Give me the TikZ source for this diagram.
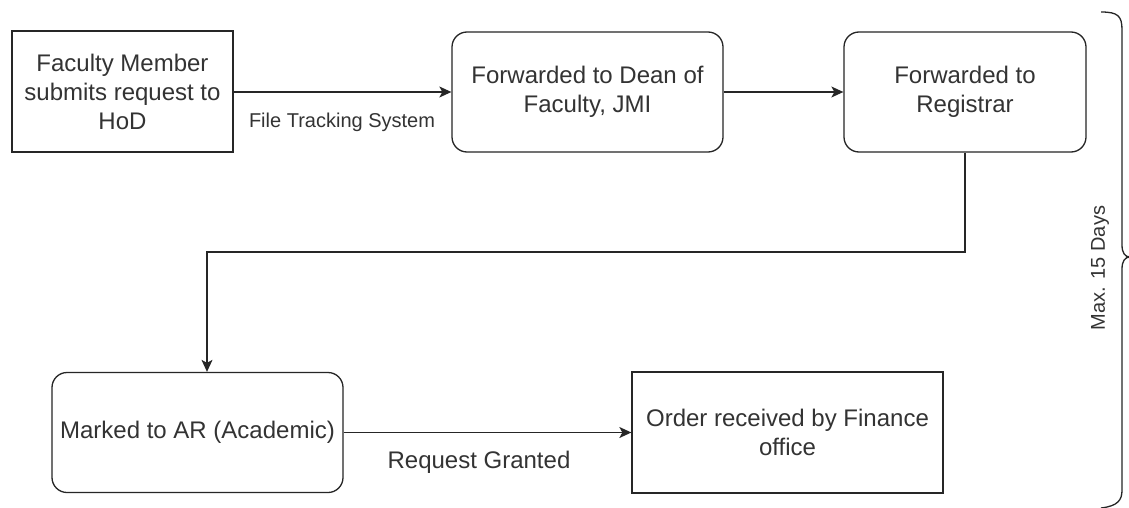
\documentclass[tikz,border=0pt]{standalone}
\usepackage{fontspec}
\setmainfont{Liberation Sans}
\usetikzlibrary{arrows.meta}
\begin{document}
\begin{tikzpicture}[x=1pt,y=-1pt,
  box/.style={draw=black!85, line width=1.3pt, align=center, font=\fontsize{24}{29}\selectfont, text=black!80, inner sep=0pt},
  rbox/.style={box, rounded corners=15pt},
  conn/.style={draw=black!85, line width=1.3pt, -{Stealth[length=12pt,width=11pt,inset=3pt]}},
  lab/.style={font=\fontsize{20}{24}\selectfont, text=black!80},
  biglab/.style={font=\fontsize{24}{29}\selectfont, text=black!80}]
\useasboundingbox[fill=white] (0,0) rectangle (1129,508);
\node[box, minimum width=221pt, minimum height=121pt] (a) at (122.5,91.5) {Faculty Member\\submits request to\\HoD};
\node[rbox, minimum width=271pt, minimum height=120pt] (b) at (587.5,92) {Forwarded to Dean of\\Faculty, JMI};
\node[rbox, minimum width=242pt, minimum height=120pt] (c) at (965,92) {Forwarded to\\Registrar};
\node[rbox, minimum width=291pt, minimum height=120pt] (d) at (197.5,432.5) {Marked to AR (Academic)};
\node[box, minimum width=311pt, minimum height=121pt] (e) at (787.5,432.5) {Order received by Finance\\office};
\draw[conn] (a.east |- b.west) -- (b.west);
\draw[conn] (b.east) -- (c.west);
\coordinate (turn) at (207,252);
\draw[conn] (c.south) |- (turn) -- (turn |- d.north);
\draw[conn] (d.east) -- (e.west);
\node[lab] (ftl) at (342,122) {File Tracking System};
\node[biglab] (rgl) at (479,462) {Request Granted};
\node[lab, rotate=90] (mx) at (1100,268) {Max. 15 Days};
\draw[line width=1.3pt, draw=black!85] (1101,12) .. controls (1118,12) and (1122,16) .. (1122,30) -- (1122,245) .. controls (1122,253) and (1125,257) .. (1130,257) .. controls (1125,257) and (1122,261) .. (1122,269) -- (1122,490) .. controls (1122,500) and (1118,506) .. (1101,508);
\end{tikzpicture}
\end{document}
